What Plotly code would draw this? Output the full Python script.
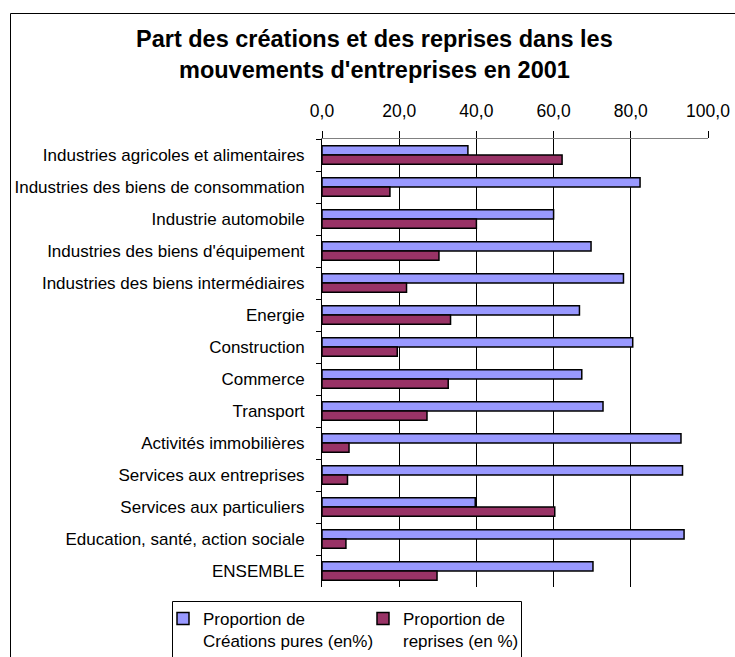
import plotly.graph_objects as go

categories = [
    "Industries agricoles et alimentaires",
    "Industries des biens de consommation",
    "Industrie automobile",
    "Industries des biens d'équipement",
    "Industries des biens intermédiaires",
    "Energie",
    "Construction",
    "Commerce",
    "Transport",
    "Activités immobilières",
    "Services aux entreprises",
    "Services aux particuliers",
    "Education, santé, action sociale",
    "ENSEMBLE",
]
creations = [37.8, 82.4, 60.0, 69.7, 78.1, 66.7, 80.5, 67.3, 72.8, 93.0, 93.4, 39.7, 93.8, 70.2]
reprises = [62.2, 17.6, 40.0, 30.3, 21.9, 33.3, 19.5, 32.7, 27.2, 7.0, 6.6, 60.3, 6.2, 29.8]
series_names = ["Proportion de<br>Créations pures (en%)", "Proportion de<br>reprises (en %)"]
title_lines = ["Part des créations et des reprises dans les", "mouvements d'entreprises en 2001"]
x_ticks = [0, 20, 40, 60, 80, 100]

W, H = 735, 657
# plot area in pixels
L, R, T, B = 322, 708, 139, 587


def px(x):
    return (x - L) / (R - L)


def py(y):
    return (B - y) / (B - T)


FONT = "Liberation Sans, Arial, sans-serif"

fig = go.Figure()
fig.add_trace(go.Bar(
    y=categories, x=creations, orientation="h", name=series_names[0],
    marker=dict(color="#9999FF", line=dict(color="black", width=1.5)),
))
fig.add_trace(go.Bar(
    y=categories, x=reprises, orientation="h", name=series_names[1],
    marker=dict(color="#993366", line=dict(color="black", width=1.5)),
))

fig.update_layout(
    width=W, height=H,
    margin=dict(l=L, r=W - R, t=T, b=H - B, autoexpand=False),
    paper_bgcolor="white", plot_bgcolor="white",
    barmode="group", bargap=0.42, bargroupgap=0,
    separators=", ",
    font=dict(family=FONT, size=17, color="black"),
    showlegend=True,
    legend=dict(
        orientation="h", x=px(163), y=py(601), xanchor="left", yanchor="top",
        bgcolor="rgba(0,0,0,0)", borderwidth=0, valign="top",
        entrywidth=155, entrywidthmode="pixels",
        font=dict(family=FONT, size=17, color="black"),
        traceorder="normal",
    ),
    xaxis=dict(
        range=[0, 100], side="top", tickvals=x_ticks, tickformat=".1f",
        showgrid=True, gridcolor="black", gridwidth=1,
        showline=True, linecolor="#808080", linewidth=1,
        ticks="outside", ticklen=7, tickcolor="black", tickwidth=1,
        ticklabelstandoff=7, zeroline=False,
        tickfont=dict(family=FONT, size=17.5, color="black"),
    ),
    yaxis=dict(
        type="category", autorange="reversed",
        showline=True, linecolor="black", linewidth=1,
        ticks="outside", ticklen=5, tickcolor="black", tickson="boundaries",
        showgrid=False, ticklabelstandoff=13,
        tickfont=dict(family=FONT, size=17, color="black"),
    ),
)

for txt, yc in zip(title_lines, [39, 70.5]):
    fig.add_annotation(
        text="<b>" + txt + "</b>", xref="paper", yref="paper",
        x=px(374), y=py(yc), xanchor="center", yanchor="middle",
        showarrow=False, font=dict(family=FONT, size=23.5, color="black"),
    )

# outer chart border (extends past the right and bottom edges of the picture)
fig.add_shape(type="rect", xref="paper", yref="paper",
              x0=px(10.5), x1=px(760), y0=py(13.5), y1=py(700),
              line=dict(color="black", width=1), layer="below")
# legend box
fig.add_shape(type="rect", xref="paper", yref="paper",
              x0=px(172.5), x1=px(521.5), y0=py(601.5), y1=py(700),
              line=dict(color="black", width=1), layer="below")

fig.write_html(
    "out.html",
    config={"displayModeBar": False},
    post_script="document.body.style.margin='0';document.body.style.overflow='hidden';",
)
